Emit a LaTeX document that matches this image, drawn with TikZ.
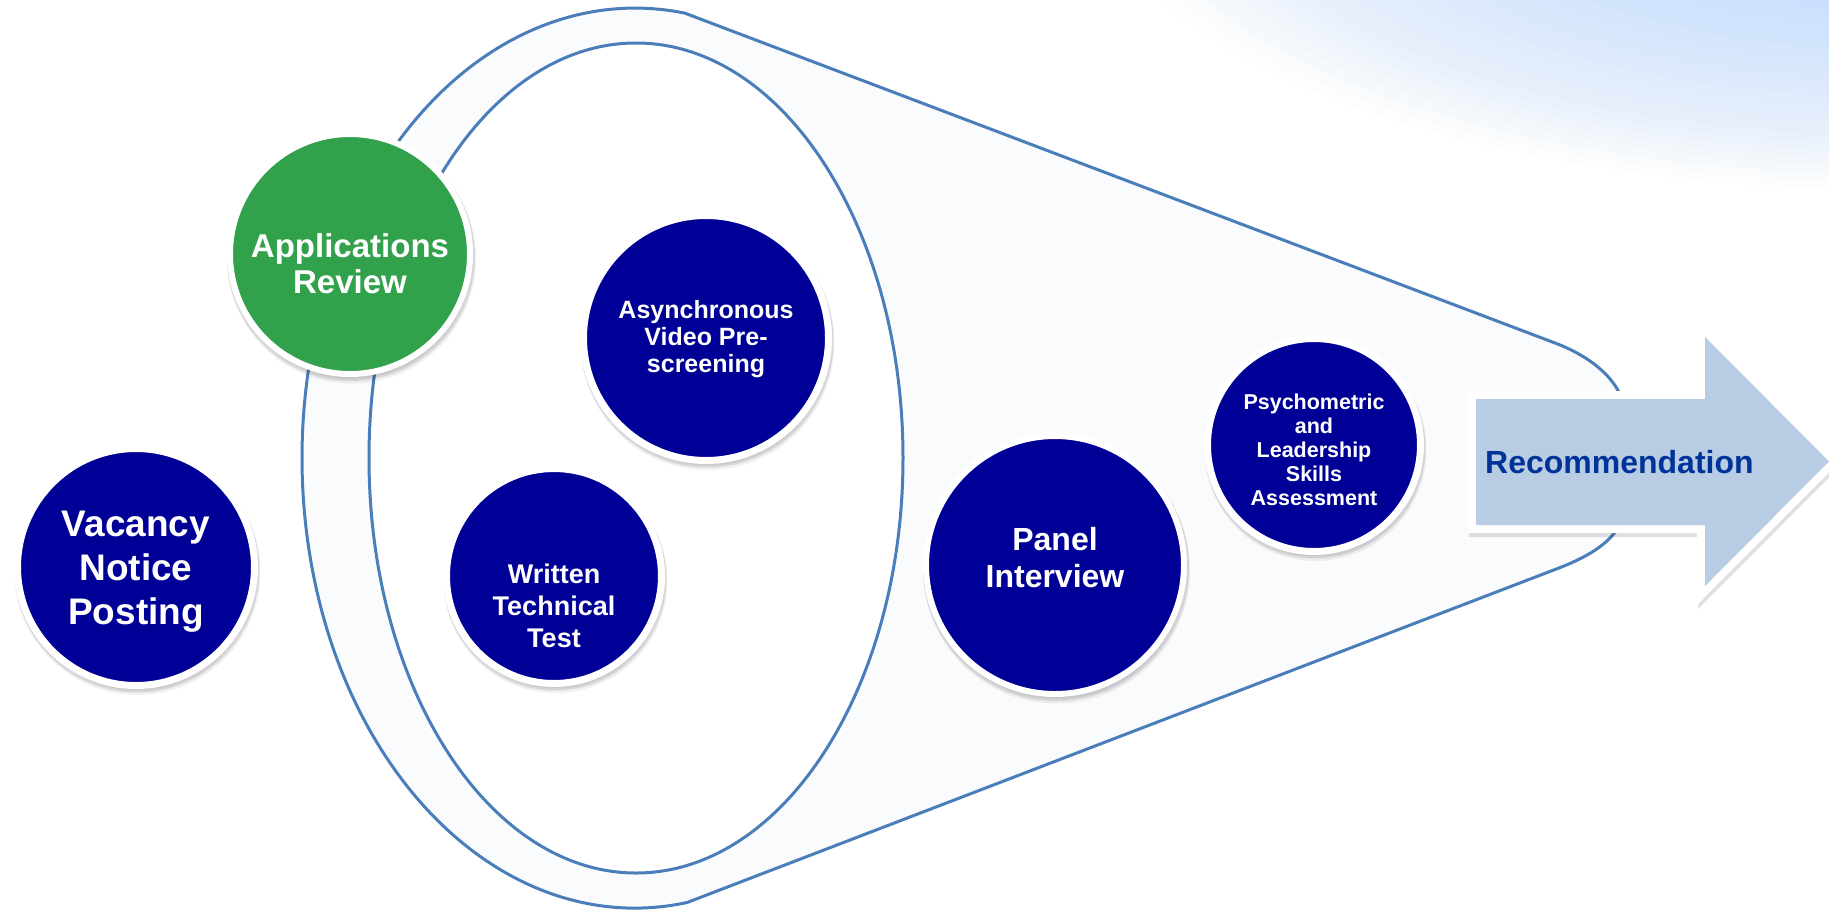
\documentclass[tikz,border=0pt]{standalone}
\usepackage{fontspec}
\setmainfont{Liberation Sans}
\usetikzlibrary{calc}

\definecolor{navystage}{RGB}{0,0,150}
\definecolor{greenstage}{RGB}{50,161,76}
\definecolor{funnelline}{RGB}{74,126,187}
\definecolor{funnelfill}{RGB}{250,251,253}
\definecolor{arrowfill}{RGB}{184,204,228}
\definecolor{recblue}{RGB}{0,51,153}
\definecolor{hazeblue}{RGB}{185,215,252}

\tikzset{
  stage/.style={circle, inner sep=0pt, fill=navystage, draw=white, line width=7pt,
    preaction={fill=black, draw=black, line width=9pt, fill opacity=.06, draw opacity=.06,
      transform canvas={shift={(1.5pt,-5pt)}}},
    preaction={fill=black, draw=black, line width=8pt, fill opacity=.10, draw opacity=.10,
      transform canvas={shift={(1pt,-3pt)}}}},
  stagetext/.style={text=white, font=\bfseries, align=center, inner sep=0pt, fill=none, draw=none},
  funnel/.style={fill=funnelfill, draw=funnelline, line width=3pt, line join=round},
  arrowborder/.style={fill=white,
    preaction={fill=black, fill opacity=.12, transform canvas={shift={(1pt,-4pt)}}}},
  hazelayer/.style={fill=hazeblue, fill opacity=.04},
}

\begin{document}
\begin{tikzpicture}[x=1pt, y=-1pt]
  \useasboundingbox (0,0) rectangle (1829,911);
  \clip (0,0) rectangle (1829,911);
  \fill[white] (0,0) rectangle (1829,911);
  % soft sky tint in the upper right corner, built from stacked translucent ellipses
  \foreach \k in {1,...,40} {
    \fill[hazelayer] (1900,-120) ellipse [x radius={20*(41-\k)}, y radius={7.75*(41-\k)}];
  }

  % funnel: outer cone with rounded nose, inner ring
  \filldraw[funnel] (684.5,13) -- (1555,343)
     .. controls (1595,358) and (1626,385) .. (1626,420) -- (1626,500)
     .. controls (1626,535) and (1595,554.5) .. (1555,569.5)
     -- (687.1,902.5) arc[start angle=81, end angle=278.55, x radius=333, y radius=450] -- cycle;
  \filldraw[fill=white, draw=funnelline, line width=3pt] (636,458) ellipse [x radius=267, y radius=415];

  % stages
  \node[stage, minimum size=237pt,
    label={[stagetext, font=\bfseries\fontsize{37}{44}\selectfont, yshift=-5pt]center:Vacancy\\Notice\\Posting}]
    (vacancy) at (136,567) {};
  \node[stage, fill=greenstage, line width=6pt, minimum size=240pt,
    label={[stagetext, font=\bfseries\fontsize{33}{36}\selectfont, yshift=-10pt]center:Applications\\Review}]
    (review) at (350,254) {};
  \node[stage, minimum size=245pt,
    label={[stagetext, font=\bfseries\fontsize{25}{27}\selectfont, yshift=-1pt]center:Asynchronous\\Video Pre-\\screening}]
    (video) at (706,338) {};
  \node[stage, minimum size=215pt,
    label={[stagetext, font=\bfseries\fontsize{27}{32}\selectfont, yshift=-30pt]center:Written\\Technical\\Test}]
    (written) at (554,576) {};
  \node[stage, line width=6pt, minimum size=258pt,
    label={[stagetext, font=\bfseries\fontsize{32}{37}\selectfont, yshift=7pt]center:Panel\\Interview}]
    (panel) at (1055,565) {};
  \node[stage, minimum size=213pt,
    label={[stagetext, font=\bfseries\fontsize{21.5}{24}\selectfont, yshift=-5pt]center:Psychometric\\and\\Leadership\\Skills\\Assessment}]
    (psych) at (1314,445) {};

  % final block arrow
  \path[arrowborder] (1468,391) -- (1697,391) -- (1697,318) -- (1840,461.5)
     -- (1697,605) -- (1697,533) -- (1468,533) -- cycle;
  \fill[arrowfill] (1476,399) -- (1705,399) -- (1705,337) -- (1829,461.5)
     -- (1705,586) -- (1705,525) -- (1476,525) -- cycle;
  \node[font=\bfseries\fontsize{32}{36}\selectfont, text=recblue, anchor=base west, inner sep=0pt]
    (rec) at (1485,473) {Recommendation};
\end{tikzpicture}
\end{document}
